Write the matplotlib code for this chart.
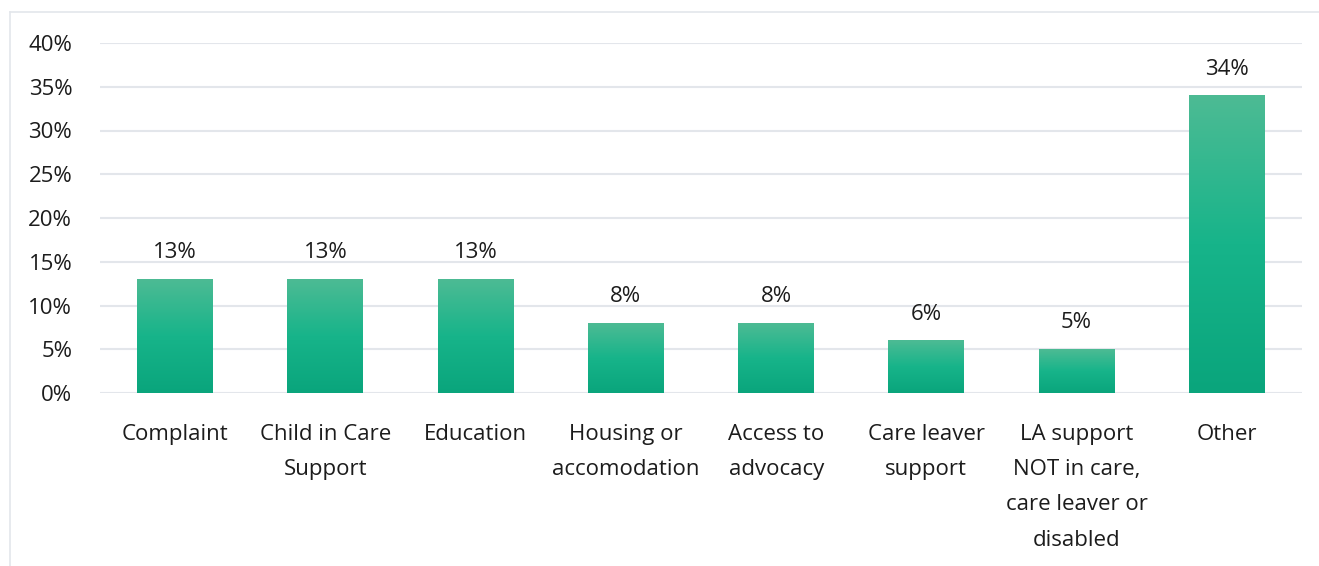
import numpy as np
import matplotlib.pyplot as plt
from matplotlib.colors import LinearSegmentedColormap

categories = ['Complaint', 'Child in Care\nSupport', 'Education', 'Housing or\naccomodation',
              'Access to\nadvocacy', 'Care leaver\nsupport',
              'LA support\nNOT in care,\ncare leaver or\ndisabled', 'Other']
values = [13, 13, 13, 8, 8, 6, 5, 34]
yticks = [0, 5, 10, 15, 20, 25, 30, 35, 40]

plt.rcParams['font.family'] = ['Open Sans', 'DejaVu Sans']
text_color = '#1c1c1c'
grid_color = '#e3e6eb'
fs = 16

# light at the top of each bar, deeper green at the base
bar_cmap = LinearSegmentedColormap.from_list('bar', ['#0aa57c', '#17b48a', '#4dbb94'])
grad = np.linspace(0, 1, 256).reshape(-1, 1)

fig = plt.figure(figsize=(13.19, 5.66), dpi=100)
ax = fig.add_axes([100 / 1319, 1 - 393 / 566, 1202 / 1319, 350 / 566])

x = np.arange(len(values))
width = 0.505
bars = ax.bar(x, values, width=width, color='none', zorder=2)
for b, v in zip(bars, values):
    x0 = b.get_x()
    ax.imshow(grad, cmap=bar_cmap, aspect='auto', origin='lower',
              extent=(x0, x0 + width, 0, v), zorder=2, interpolation='bicubic')
    ax.text(b.get_x() + width / 2, v + 1.8, f'{v}%', ha='center', va='bottom',
            fontsize=fs, color=text_color)

ax.set_xlim(-0.5, len(values) - 0.5)
ax.set_ylim(0, 40)
ax.set_yticks(yticks)
ax.set_yticklabels([f'{t}%' for t in yticks], fontsize=fs, color=text_color)
ax.set_xticks(x)
ax.set_xticklabels(categories, fontsize=fs, color=text_color, linespacing=1.9, va='top')
ax.tick_params(axis='both', length=0)
ax.tick_params(axis='y', pad=20)
ax.tick_params(axis='x', pad=22)
ax.yaxis.grid(True, color=grid_color, linewidth=1.5, zorder=0)
ax.set_axisbelow(True)
for s in ax.spines.values():
    s.set_visible(False)

# outer frame lines (top and left)
fig.add_artist(plt.Line2D([10 / 1319, 1], [1 - 12 / 566, 1 - 12 / 566], color=grid_color, lw=1.2))
fig.add_artist(plt.Line2D([10 / 1319, 10 / 1319], [0, 1 - 12 / 566], color=grid_color, lw=1.2))

fig.savefig('out.png', dpi=100)
